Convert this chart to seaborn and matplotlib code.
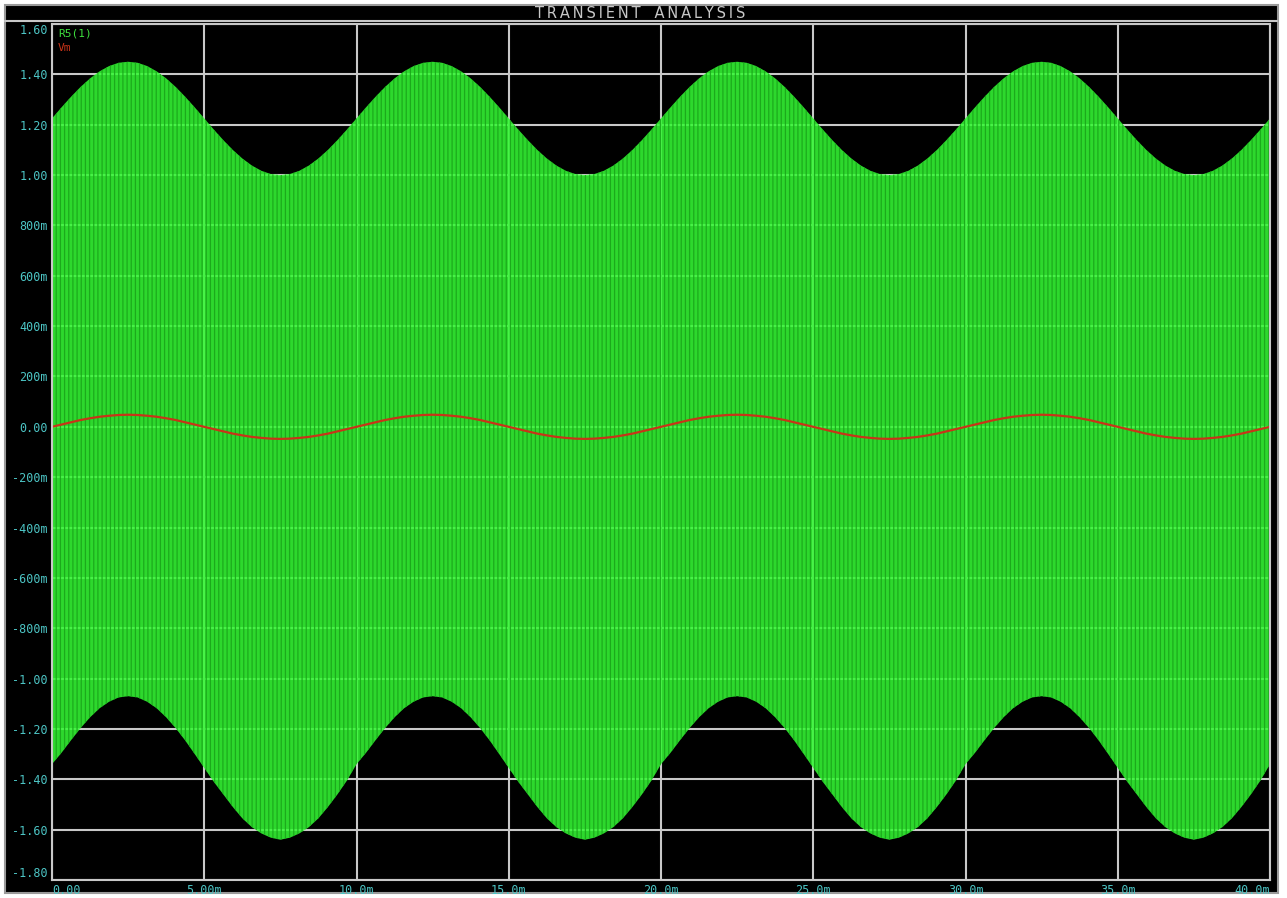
import numpy as np
import pandas as pd
import matplotlib
matplotlib.use("Agg")
import matplotlib.pyplot as plt
import seaborn as sns
from matplotlib.patches import Rectangle
from matplotlib.lines import Line2D
from matplotlib.ticker import MultipleLocator

# ---- data (time in ms, volts) ----
time_ms = np.arange(0, 40.001, 0.3125)

# upper envelope of R5(1), one 10 ms period per row
env_upper = [
    1.225, 1.269, 1.311, 1.350, 1.384, 1.412, 1.433, 1.446, 1.450, 1.446, 1.433, 1.412, 1.384, 1.350, 1.311, 1.269,
    1.225, 1.181, 1.139, 1.100, 1.066, 1.038, 1.017, 1.004, 1.000, 1.004, 1.017, 1.038, 1.066, 1.100, 1.139, 1.181,
    1.225, 1.269, 1.311, 1.350, 1.384, 1.412, 1.433, 1.446, 1.450, 1.446, 1.433, 1.412, 1.384, 1.350, 1.311, 1.269,
    1.225, 1.181, 1.139, 1.100, 1.066, 1.038, 1.017, 1.004, 1.000, 1.004, 1.017, 1.038, 1.066, 1.100, 1.139, 1.181,
    1.225, 1.269, 1.311, 1.350, 1.384, 1.412, 1.433, 1.446, 1.450, 1.446, 1.433, 1.412, 1.384, 1.350, 1.311, 1.269,
    1.225, 1.181, 1.139, 1.100, 1.066, 1.038, 1.017, 1.004, 1.000, 1.004, 1.017, 1.038, 1.066, 1.100, 1.139, 1.181,
    1.225, 1.269, 1.311, 1.350, 1.384, 1.412, 1.433, 1.446, 1.450, 1.446, 1.433, 1.412, 1.384, 1.350, 1.311, 1.269,
    1.225, 1.181, 1.139, 1.100, 1.066, 1.038, 1.017, 1.004, 1.000, 1.004, 1.017, 1.038, 1.066, 1.100, 1.139, 1.181,
    1.225,
]
# lower envelope of R5(1)
env_lower = [
    -1.34, -1.295, -1.245, -1.197, -1.154, -1.118, -1.092, -1.075, -1.07, -1.075, -1.092, -1.118, -1.154, -1.197, -1.246, -1.30,
    -1.355, -1.41, -1.46, -1.51, -1.555, -1.59, -1.615, -1.632, -1.64, -1.632, -1.615, -1.59, -1.555, -1.51, -1.46, -1.405,
    -1.34, -1.295, -1.245, -1.197, -1.154, -1.118, -1.092, -1.075, -1.07, -1.075, -1.092, -1.118, -1.154, -1.197, -1.246, -1.30,
    -1.355, -1.41, -1.46, -1.51, -1.555, -1.59, -1.615, -1.632, -1.64, -1.632, -1.615, -1.59, -1.555, -1.51, -1.46, -1.405,
    -1.34, -1.295, -1.245, -1.197, -1.154, -1.118, -1.092, -1.075, -1.07, -1.075, -1.092, -1.118, -1.154, -1.197, -1.246, -1.30,
    -1.355, -1.41, -1.46, -1.51, -1.555, -1.59, -1.615, -1.632, -1.64, -1.632, -1.615, -1.59, -1.555, -1.51, -1.46, -1.405,
    -1.34, -1.295, -1.245, -1.197, -1.154, -1.118, -1.092, -1.075, -1.07, -1.075, -1.092, -1.118, -1.154, -1.197, -1.246, -1.30,
    -1.355, -1.41, -1.46, -1.51, -1.555, -1.59, -1.615, -1.632, -1.64, -1.632, -1.615, -1.59, -1.555, -1.51, -1.46, -1.405,
    -1.34,
]
# modulating signal Vm
vm = [
    0.0, 0.009, 0.018, 0.027, 0.034, 0.040, 0.044, 0.047, 0.048, 0.047, 0.044, 0.040, 0.034, 0.027, 0.018, 0.009,
    0.0, -0.009, -0.018, -0.027, -0.034, -0.040, -0.044, -0.047, -0.048, -0.047, -0.044, -0.040, -0.034, -0.027, -0.018, -0.009,
    0.0, 0.009, 0.018, 0.027, 0.034, 0.040, 0.044, 0.047, 0.048, 0.047, 0.044, 0.040, 0.034, 0.027, 0.018, 0.009,
    0.0, -0.009, -0.018, -0.027, -0.034, -0.040, -0.044, -0.047, -0.048, -0.047, -0.044, -0.040, -0.034, -0.027, -0.018, -0.009,
    0.0, 0.009, 0.018, 0.027, 0.034, 0.040, 0.044, 0.047, 0.048, 0.047, 0.044, 0.040, 0.034, 0.027, 0.018, 0.009,
    0.0, -0.009, -0.018, -0.027, -0.034, -0.040, -0.044, -0.047, -0.048, -0.047, -0.044, -0.040, -0.034, -0.027, -0.018, -0.009,
    0.0, 0.009, 0.018, 0.027, 0.034, 0.040, 0.044, 0.047, 0.048, 0.047, 0.044, 0.040, 0.034, 0.027, 0.018, 0.009,
    0.0, -0.009, -0.018, -0.027, -0.034, -0.040, -0.044, -0.047, -0.048, -0.047, -0.044, -0.040, -0.034, -0.027, -0.018, -0.009,
    0.0,
]

x_ticks = [0, 5, 10, 15, 20, 25, 30, 35, 40]
x_tick_labels = ["0.00", "5.00m", "10.0m", "15.0m", "20.0m", "25.0m", "30.0m", "35.0m", "40.0m"]
y_ticks = [-1.8, -1.6, -1.4, -1.2, -1.0, -0.8, -0.6, -0.4, -0.2, 0.0,
           0.2, 0.4, 0.6, 0.8, 1.0, 1.2, 1.4, 1.6]
y_tick_labels = ["-1.80", "-1.60", "-1.40", "-1.20", "-1.00", "-800m", "-600m", "-400m", "-200m", "0.00",
                 "200m", "400m", "600m", "800m", "1.00", "1.20", "1.40", "1.60"]

df = pd.DataFrame({"time_ms": time_ms, "upper": env_upper, "lower": env_lower, "Vm": vm})

#%%
sns.set_style("dark")
plt.rcParams["font.family"] = ["DejaVu Sans Mono", "DejaVu Sans"]
plt.rcParams["hatch.linewidth"] = 0.9

W, H = 1287, 898
GREEN = "#34fa34"
STRIPE = "#1aa41a"
RED = "#c83418"
CYAN = "#4cc4c4"
GRID = "#c8c8c8"

fig = plt.figure(figsize=(W / 100, H / 100), dpi=100, facecolor="white")

# black screen with grey frame and title bar (kept behind the axes)
fig.patches.append(Rectangle((5 / W, 5 / H), 1273 / W, 888 / H, transform=fig.transFigure,
                             facecolor="black", edgecolor="#9a9a9a", lw=1.5, zorder=-10))
fig.lines.append(Line2D([5 / W, 1277 / W], [1 - 20.5 / H] * 2, transform=fig.transFigure,
                        color=GRID, lw=1.5, zorder=-5))
fig.text(640 / W, 1 - 13 / H, "T\u2009R\u2009A\u2009N\u2009S\u2009I\u2009E\u2009N\u2009T   A\u2009N\u2009A\u2009L\u2009Y\u2009S\u2009I\u2009S",
         ha="center", va="center", color="#c8c8c8", fontsize=10.5, family="DejaVu Sans")

ax = fig.add_axes([52 / W, 18 / H, 1218 / W, 856 / H])
ax.set_zorder(1)
ax.set_facecolor("black")

# grid sits under the trace and shows faintly through it
ax.set_axisbelow(True)
ax.grid(True, which="major", color=GRID, lw=1.5)
ax.grid(False, which="minor")

ax.fill_between(df["time_ms"], df["lower"], df["upper"], facecolor=GREEN, edgecolor=STRIPE,
                hatch="||||", lw=0, alpha=0.87, zorder=1)
sns.lineplot(data=df, x="time_ms", y="Vm", color=RED, lw=1.6, ax=ax, zorder=4)

ax.set_xlim(0, 40)
ax.set_ylim(-1.8, 1.6)
ax.set_xticks(x_ticks, x_tick_labels)
ax.set_yticks(y_ticks, y_tick_labels)
ax.xaxis.set_minor_locator(MultipleLocator(0.5))
ax.yaxis.set_minor_locator(MultipleLocator(0.02))
ax.set_xlabel("")
ax.set_ylabel("")

ax.tick_params(which="major", length=0, labelcolor=CYAN, labelsize=8.5, pad=3)
ax.tick_params(which="minor", direction="in", length=3, width=1, color=GRID)

for s in ax.spines.values():
    s.set_color(GRID)
    s.set_linewidth(1.5)
    s.set_visible(True)
    s.set_zorder(5)

xl = ax.get_xticklabels()
xl[0].set_horizontalalignment("left")
xl[-1].set_horizontalalignment("right")
yl = ax.get_yticklabels()
yl[0].set_verticalalignment("bottom")
yl[-1].set_verticalalignment("top")

# trace names
ax.text(0.005, 0.995, "R5(1)", transform=ax.transAxes, color="#3ee03e", fontsize=8, va="top", ha="left")
ax.text(0.005, 0.978, "Vm", transform=ax.transAxes, color=RED, fontsize=8, va="top", ha="left")

plt.savefig("out.png", dpi=100)
